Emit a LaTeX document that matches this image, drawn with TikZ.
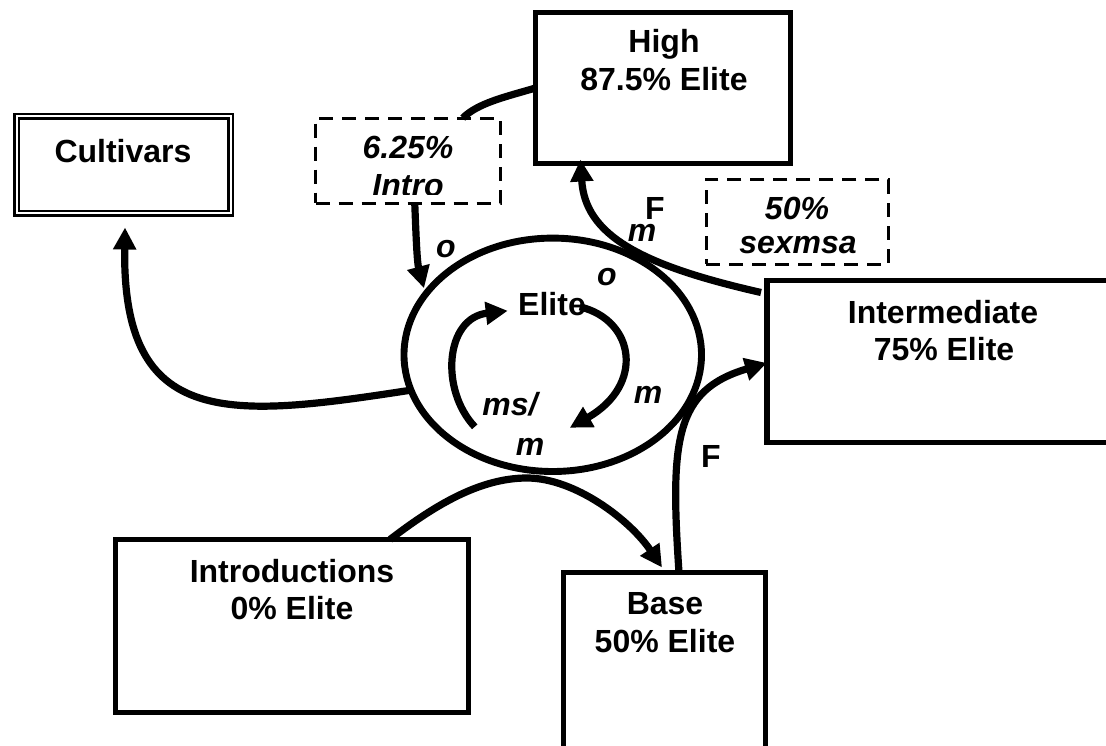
\documentclass[tikz,border=0pt]{standalone}
\usepackage{fontspec}
\setmainfont{Liberation Sans}
\usetikzlibrary{arrows.meta,shapes.geometric,calc}
\begin{document}
\begin{tikzpicture}[x=1pt,y=-1pt,
  box/.style={draw,line width=5.5pt,rectangle,inner sep=0pt,outer sep=0pt},
  dbox/.style={draw,line width=3pt,dash pattern=on 14pt off 9pt,rectangle,inner sep=0pt,outer sep=0pt},
  txt/.style={font=\fontsize{32}{38}\selectfont\bfseries,anchor=base,inner sep=0pt},
  itxt/.style={txt,font=\fontsize{32}{38}\selectfont\bfseries\itshape},
  conn/.style={line width=7.2pt},
  arr/.style={conn,-{Triangle[length=22pt,width=22pt]}},
]
\fill[white] (0,0) rectangle (1106,746);
\useasboundingbox (0,0) rectangle (1106,746);

% boxes
\node[draw,double,double distance=2pt,line width=2.6pt,inner sep=0pt,outer sep=0pt,
      minimum width=214pt,minimum height=97pt] (cult) at (123.5,165) {};
\node[box,minimum width=255pt,minimum height=151pt] (high) at (663,88) {};
\node[box,minimum width=353pt,minimum height=162pt] (inter) at (943.5,361.5) {};
\node[box,minimum width=353pt,minimum height=173pt] (intros) at (292,626) {};
\node[box,minimum width=202pt,minimum height=177.5pt] (base) at (664.5,661.25) {};
\node[dbox,minimum width=184.5pt,minimum height=85.3pt] (intro) at (407.75,160.7) {};
\node[dbox,minimum width=182.3pt,minimum height=84.6pt] (sex) at (797.2,222) {};
\node[draw,ellipse,line width=6.9pt,inner sep=0pt,outer sep=0pt,
      minimum width=297.5pt,minimum height=233.4pt] (elite) at (552.75,354.8) {};

% texts
\node[txt] (cultT) at (123,163) {Cultivars};
\node[txt] (highT1) at (664,53) {High};
\node[txt] (highT2) at (664,91) {87.5\% Elite};
\node[txt] (interT1) at (943,323) {Intermediate};
\node[txt] (interT2) at (944,360) {75\% Elite};
\node[txt] (introsT1) at (292,582) {Introductions};
\node[txt] (introsT2) at (292,619) {0\% Elite};
\node[txt] (baseT1) at (665,614) {Base};
\node[txt] (baseT2) at (665,652) {50\% Elite};
\node[txt] (eliteT) at (552,315) {Elite};
\begin{scope}
  \clip (intro.north west) rectangle ($(intro.south east)+(0,-9)$);
  \node[itxt] (introT1) at (408,158.5) {6.25\%};
  \node[itxt] (introT2) at (408,197) {Intro};
\end{scope}
\begin{scope}
  \clip (sex.north west) rectangle ($(sex.south east)+(0,-11)$);
  \node[itxt] (sexT1) at (797,220) {50\%};
  \node[itxt] (sexT2) at (798,254) {sexmsa};
\end{scope}

% labels
\node[itxt] (lo1) at (446,258) {o};
\node[itxt] (lo2) at (607,285) {o};
\node[txt] (lF1) at (655,220) {F};
\node[itxt] (lm1) at (642,242) {m};
\node[itxt] (lm2) at (648,403) {m};
\node[itxt] (lms) at (510,415) {ms/};
\node[itxt] (lm3) at (530,455) {m};
\node[txt] (lF2) at (711,467) {F};

% connectors
\draw[conn] (high.west) .. controls (505,97) and (478,103) .. ($(intro.north)+(55,0)$);
\draw[arr] ($(intro.south)+(7,0)$) .. controls (416,235) and (417,262) .. ($(elite.153)+(-4,-3)$);
\draw[arr] ($(inter.north west)+(-6,12)$) .. controls (640,265) and (585,235) .. ($(high.south west)+(45,-4)$);
\draw[arr] (elite.194) .. controls (230,418) and (122,430) .. ($(cult.south)+(1.5,14)$);
\draw[arr] ($(base.north)+(14.5,0)$) .. controls (670,440) and (675,390) .. ($(inter.west)+(0,1.5)$);
\coordinate (under) at (527,478);
\draw[arr] ($(intros.north)+(98,0)$) .. controls (435,505) and (480,478) .. (under)
           .. controls (575,478) and (630,520) .. ($(base.north)+(-2.5,-5)$);
\draw[arr] ($(elite.center)+(-78,72)$) .. controls (440,390) and (445,318) .. ($(elite.center)+(-45,-44)$);
\draw[arr] ($(elite.center)+(27,-48)$) .. controls (635,320) and (645,385) .. ($(elite.center)+(17,73)$);
\end{tikzpicture}
\end{document}
